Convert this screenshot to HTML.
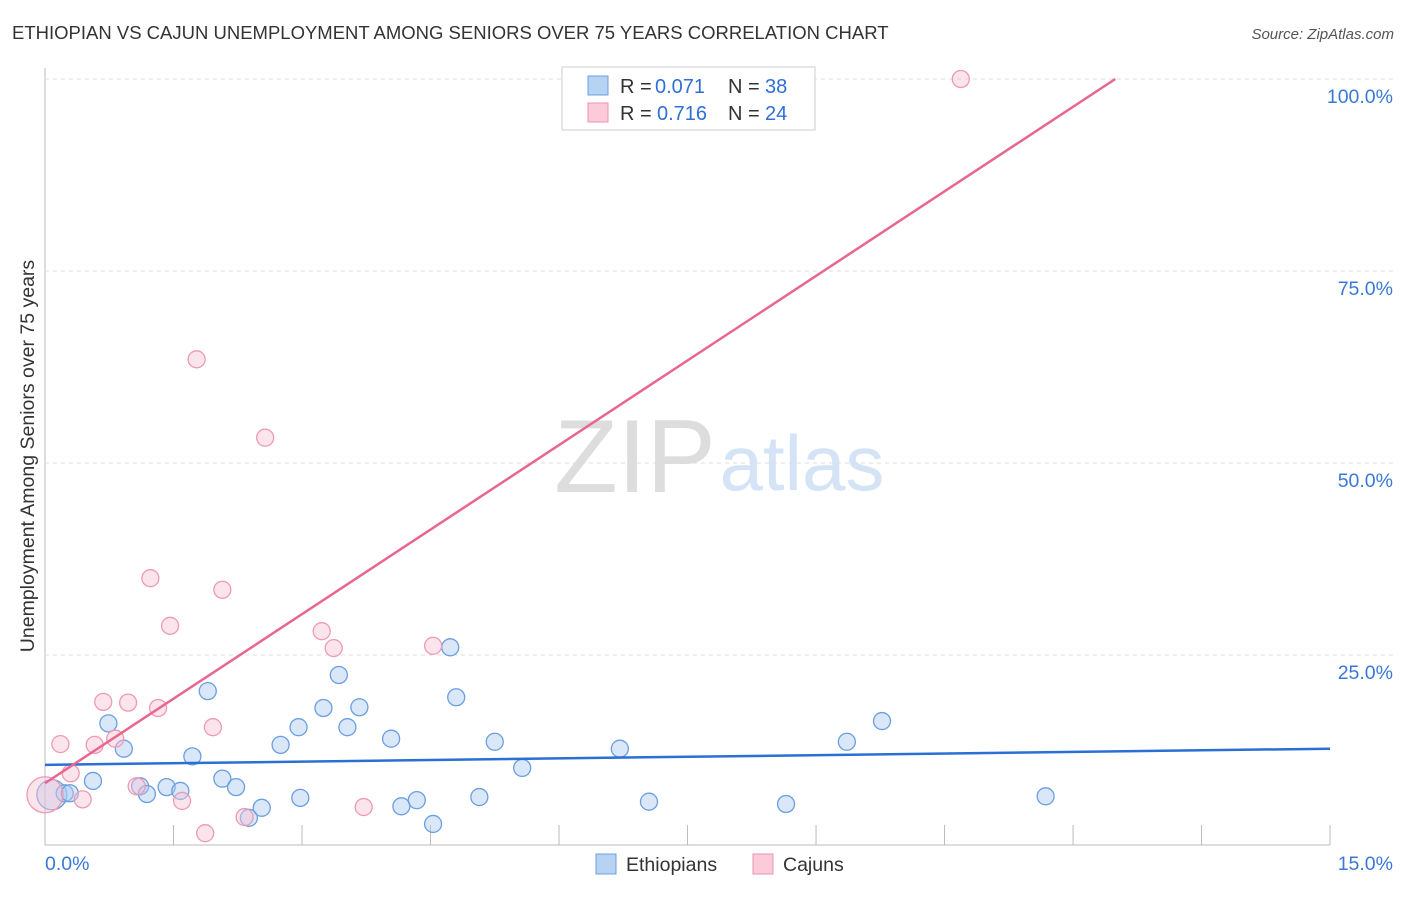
<!DOCTYPE html>
<html><head><meta charset="utf-8"><style>
body{margin:0;background:#fff;font-family:"Liberation Sans",sans-serif;}
svg text{font-family:"Liberation Sans",sans-serif;}
</style></head><body>
<svg width="1406" height="892" id="c">
<text x="12" y="39" font-size="18.5" fill="#333">ETHIOPIAN VS CAJUN UNEMPLOYMENT AMONG SENIORS OVER 75 YEARS CORRELATION CHART</text>
<text x="1394" y="39" font-size="15" fill="#555" text-anchor="end" font-style="italic">Source: ZipAtlas.com</text>
<text transform="translate(34,456) rotate(-90)" font-size="19.5" fill="#333" text-anchor="middle">Unemployment Among Seniors over 75 years</text>
<g><text x="635" y="492" font-size="104" fill="#ddd" text-anchor="middle" font-family="Liberation Serif,serif">ZIP</text><text x="802" y="490" font-size="78" fill="#d4e3f5" text-anchor="middle">atlas</text></g>
<g id="grid"></g><g id="pts"></g><g id="lines"></g>
<g font-size="20">
<rect x="562" y="67" width="253" height="63" fill="#fff" stroke="#ccc"/>
<rect x="588" y="76" width="20" height="19" fill="#b7d3f4" stroke="#6a9fe0"/>
<rect x="588" y="103" width="20" height="19" fill="#fbcbd9" stroke="#ec93af"/>
<text x="620" y="93" fill="#333">R =</text><text x="655" y="93" fill="#2f6fd6">0.071</text><text x="728" y="93" fill="#333">N =</text><text x="765" y="93" fill="#2f6fd6">38</text>
<text x="620" y="120" fill="#333">R =</text><text x="657" y="120" fill="#2f6fd6">0.716</text><text x="728" y="120" fill="#333">N =</text><text x="765" y="120" fill="#2f6fd6">24</text>
</g>
<g>
<rect x="596" y="854" width="20" height="20" fill="#b7d3f4" stroke="#6a9fe0"/><text x="626" y="871" font-size="19.5" fill="#333">Ethiopians</text>
<rect x="753" y="854" width="20" height="20" fill="#fbcbd9" stroke="#ec93af"/><text x="783" y="871" font-size="19.5" fill="#333">Cajuns</text>
</g>
</svg>
<script>
const yTicks=[25,50,75,100];
const yTickLabels=["25.0%","50.0%","75.0%","100.0%"];
const xTickLabels=["0.0%","15.0%"];
const ethX=[0.08,0.23,0.56,0.74,0.92,1.11,1.19,1.42,1.58,1.72,1.90,2.07,2.23,2.38,2.53,2.75,2.96,2.98,3.25,3.43,3.53,3.67,4.04,4.16,4.34,4.53,4.73,4.80,5.07,5.25,5.57,6.71,7.05,8.65,9.36,9.77,11.68,0.29];
const ethY=[6.8,7.0,8.6,16.1,12.8,7.9,6.9,7.8,7.3,11.8,20.3,8.9,7.8,3.8,5.1,13.3,15.6,6.4,18.1,22.4,15.6,18.2,14.1,5.3,6.1,3.0,26.0,19.5,6.5,13.7,10.3,12.8,5.9,5.6,13.7,16.4,6.6,7.0];
const cajX=[0.0,0.18,0.30,0.44,0.58,0.68,0.82,0.97,1.07,1.23,1.32,1.46,1.60,1.77,1.87,1.96,2.07,2.33,2.57,3.23,3.37,3.72,4.53,10.69];
const cajY=[6.8,13.4,9.6,6.2,13.3,18.9,14.1,18.8,7.9,35.0,18.1,28.8,6.0,63.5,1.8,15.6,33.5,3.9,53.3,28.1,25.9,5.2,26.2,100];
const ethLine=[10.7,12.8];   // trend value at x=0 and x=15
const cajLine=[8.3,7.34];    // intercept, slope per %
const NS="http://www.w3.org/2000/svg";
const X=v=>45+v*85.67, Y=v=>847-v*7.68;
function mk(t,a,p){const e=document.createElementNS(NS,t);for(const k in a)e.setAttribute(k,a[k]);p.appendChild(e);return e;}
const g=document.getElementById('grid');
mk('line',{x1:45,y1:68,x2:45,y2:845,stroke:'#bbb'},g);
mk('line',{x1:45,y1:845,x2:1330,y2:845,stroke:'#bbb'},g);
for(let i=1;i<=10;i++){const l=mk('line',{x1:X(i*1.5),y1:825,x2:X(i*1.5),y2:845,stroke:'#bbb'},g);

}
yTicks.forEach((t,i)=>{const l=mk('line',{x1:45,y1:Y(t),x2:1395,y2:Y(t),stroke:'#ddd','stroke-dasharray':'4,4'},g);


const tx=mk('text',{x:1393,y:Y(t)+24,'font-size':19.5,fill:'#3a78d6','text-anchor':'end'},g);tx.textContent=yTickLabels[i];

});
[[0,45,'start'],[1,1393,'end']].forEach(([i,x,a])=>{const tx=mk('text',{x:x,y:870,'font-size':19.5,fill:'#3a78d6','text-anchor':a},g);tx.textContent=xTickLabels[i];

});
const p=document.getElementById('pts');
ethX.forEach((x,i)=>{const r=i==0?15:8.5;const c=mk('circle',{cx:X(x),cy:Y(ethY[i]),r:r,fill:'rgba(170,202,242,0.45)',stroke:'#6a9fe0','stroke-width':1.3},p);

});
cajX.forEach((x,i)=>{const r=i==0?18:8.5;const c=mk('circle',{cx:X(x),cy:Y(cajY[i]),r:r,fill:'rgba(249,196,212,0.45)',stroke:'#ee9ab3','stroke-width':1.3},p);

});
const L=document.getElementById('lines');
const bl=mk('line',{x1:X(0),y1:Y(ethLine[0]),x2:X(15),y2:Y(ethLine[1]),stroke:'#2a6fd4','stroke-width':2.5},L);


const xe=(100-cajLine[0])/cajLine[1];
const pl=mk('line',{x1:X(0),y1:Y(cajLine[0]),x2:X(xe),y2:Y(100),stroke:'#e8668f','stroke-width':2.5},L);


</script>
</body></html>
